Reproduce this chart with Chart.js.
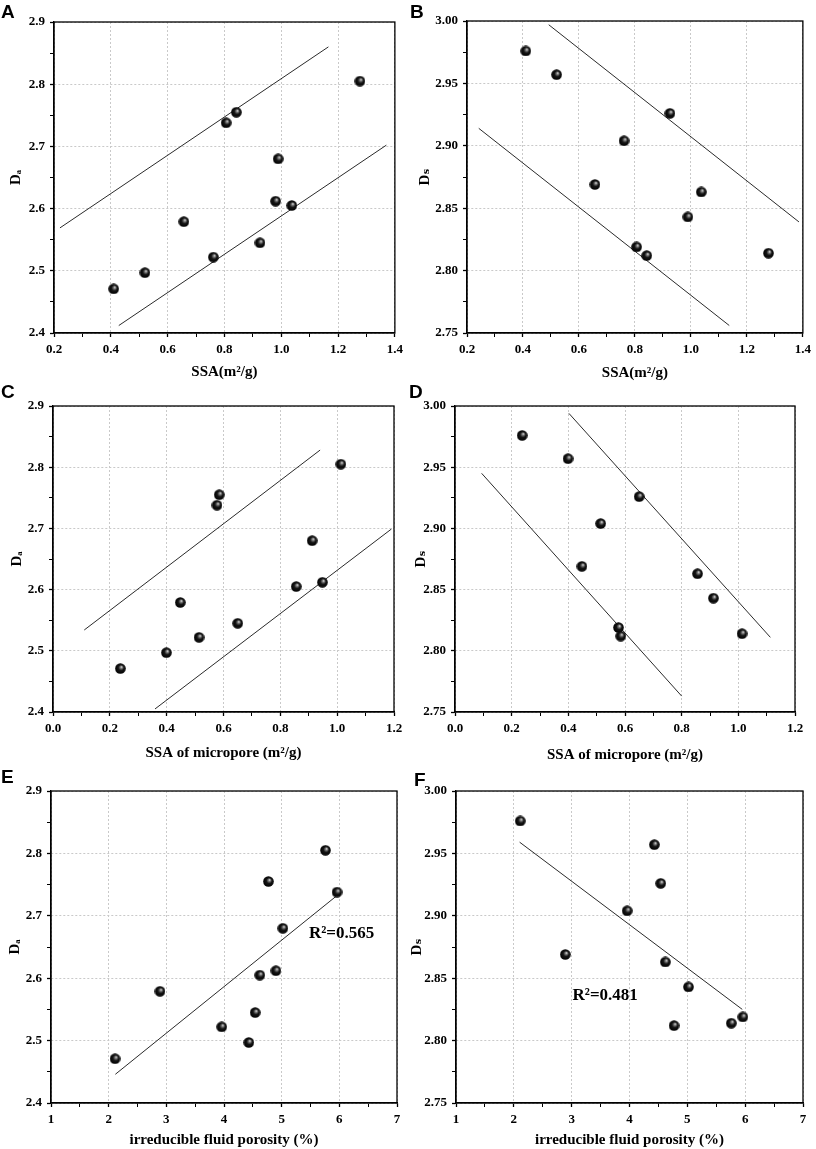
<!DOCTYPE html>
<html>
<head>
<meta charset="utf-8">
<script src="https://cdn.jsdelivr.net/npm/chart.js@4.4.1/dist/chart.umd.min.js"></script>
<style>
  body { margin: 0; background: #fff; }
  #page { position: relative; width: 816px; height: 1149px; overflow: hidden; }
  canvas { position: absolute; }
  .tag { position: absolute; font: bold 19px "Liberation Sans", Arial, sans-serif; color: #000; }
</style>
</head>
<body>
<div id="page">
  <canvas id="chA" width="408" height="385" style="left:0;top:0"></canvas>
  <canvas id="chB" width="408" height="385" style="left:408px;top:0"></canvas>
  <canvas id="chC" width="408" height="385" style="left:0;top:380px"></canvas>
  <canvas id="chD" width="408" height="385" style="left:408px;top:380px"></canvas>
  <canvas id="chE" width="408" height="389" style="left:0;top:760px"></canvas>
  <canvas id="chF" width="408" height="389" style="left:408px;top:760px"></canvas>
  <div class="tag" style="left:1px;top:1px">A</div>
  <div class="tag" style="left:410px;top:1px">B</div>
  <div class="tag" style="left:1px;top:381px">C</div>
  <div class="tag" style="left:409px;top:381px">D</div>
  <div class="tag" style="left:1px;top:766px">E</div>
  <div class="tag" style="left:414px;top:769px">F</div>
</div>
<script>
// samples, same order in every array (one sample has no Ds value)
var ssa      = [0.410, 0.520, 0.657, 0.761, 0.806, 0.842, 0.925, 0.989, 0.980, 1.037, 1.277];
var ssaMicro = [0.237, 0.399, 0.448, 0.514, 0.577, 0.585, 0.650, 0.912, 0.948, 0.856, 1.013];
var ifp      = [2.11, 4.43, 2.89, 3.96, 5.96, 4.77, 4.54, 5.02, 4.90, 4.62, 5.76];
var da       = [2.471, 2.497, 2.579, 2.522, 2.738, 2.755, 2.545, 2.680, 2.612, 2.605, 2.805];
var ds       = [2.976, 2.957, 2.869, 2.904, 2.819, 2.812, 2.926, 2.843, null, 2.863, 2.814];

// envelope / fit lines, end points [x, y]
var lineA1 = [[0.221, 2.569], [1.166, 2.860]];
var lineA2 = [[0.428, 2.412], [1.370, 2.702]];
var lineB1 = [[0.492, 2.997], [1.386, 2.839]];
var lineB2 = [[0.242, 2.914], [1.137, 2.756]];
var lineC1 = [[0.110, 2.534], [0.940, 2.828]];
var lineC2 = [[0.359, 2.405], [1.191, 2.699]];
var lineD1 = [[0.402, 2.994], [1.113, 2.811]];
var lineD2 = [[0.094, 2.945], [0.800, 2.763]];
var lineE  = [[2.116, 2.446], [5.94, 2.731]];
var lineF  = [[2.10, 2.959], [5.95, 2.825]];

// axis ranges: [min, max, step of minor ticks, label decimals]
var xSSA   = [0.2, 1.4, 0.1, 1];
var xMicro = [0.0, 1.2, 0.1, 1];
var xIfp   = [1, 7, 0.5, 0];
var yDa    = [2.4, 2.9, 0.05, 1];
var yDs    = [2.75, 3.00, 0.025, 2];

var serif = '"Liberation Serif", "Times New Roman", "DejaVu Serif", serif';

function makeBall(d) {
    var c = document.createElement('canvas');
    c.width = d; c.height = d;
    var g = c.getContext('2d');
    var r = d / 2;
    var grad = g.createRadialGradient(r * 1.25, r * 0.7, 0, r, r, r);
    grad.addColorStop(0, '#ffffff');
    grad.addColorStop(0.18, '#8a8a8a');
    grad.addColorStop(0.5, '#151515');
    grad.addColorStop(1, '#000000');
    g.fillStyle = grad;
    g.beginPath();
    g.arc(r, r, r - 0.2, 0, Math.PI * 2);
    g.fill();
    return c;
}
var ball = makeBall(11);

function pts(xs, ys) {
    var out = [];
    for (var i = 0; i < xs.length; i++) {
        if (ys[i] !== null) out.push({x: xs[i], y: ys[i]});
    }
    return out;
}

function seg(p) {
    return {
        type: 'line',
        data: p.map(function (q) { return {x: q[0], y: q[1]}; }),
        borderColor: '#2a2a2a',
        borderWidth: 1,
        pointRadius: 0,
        fill: false
    };
}

var frame = {
    id: 'frame',
    afterDraw: function (chart) {
        var a = chart.chartArea, ctx = chart.ctx;
        ctx.save();
        ctx.strokeStyle = '#000';
        ctx.lineWidth = 1.3;
        ctx.strokeRect(a.left, a.top, a.right - a.left, a.bottom - a.top);
        var note = chart.options.plugins.note;
        if (note && note.text) {
            ctx.font = 'bold 17px ' + serif;
            ctx.fillStyle = '#000';
            ctx.textAlign = 'center';
            ctx.textBaseline = 'middle';
            ctx.fillText(note.text, chart.scales.x.getPixelForValue(note.x), chart.scales.y.getPixelForValue(note.y));
        }
        ctx.restore();
    }
};

function axis(range, title, size, titlePad) {
    return {
        type: 'linear',
        min: range[0],
        max: range[1],
        afterFit: function (s) {
            if (s.isHorizontal()) s.height = size; else s.width = size;
        },
        ticks: {
            stepSize: range[2],
            autoSkip: false,
            maxRotation: 0,
            padding: 5,
            color: '#000',
            font: {family: serif, size: 13, weight: 'bold'},
            callback: function (v, i) {
                return i % 2 === 0 ? Number(v).toFixed(range[3]) : '';
            }
        },
        grid: {
            color: function (c) { return c.index % 2 === 0 ? '#c9c9c9' : 'rgba(0,0,0,0)'; },
            lineWidth: 1,
            tickColor: '#000',
            tickLength: 4,
            tickWidth: function (c) { return c.index % 2 === 0 ? 1.3 : 1; }
        },
        border: {display: true, color: '#000', width: 1.3, dash: [2, 2]},
        title: {
            display: true,
            text: title,
            color: '#000',
            padding: titlePad,
            font: {family: serif, size: 15, weight: 'bold'}
        }
    };
}

function panel(id, xs, ys, lines, xr, yr, xTitle, yTitle, lay, note) {
    var sets = [{
        type: 'scatter',
        data: pts(xs, ys),
        pointStyle: ball,
        pointRadius: 5.5,
        order: 0
    }];
    lines.forEach(function (l) { sets.push(seg(l)); });
    new Chart(document.getElementById(id).getContext('2d'), {
        type: 'scatter',
        data: {datasets: sets},
        options: {
            responsive: false,
            animation: false,
            layout: {padding: {left: 0, top: lay.top, right: lay.right, bottom: 0}},
            plugins: {legend: {display: false}, tooltip: {enabled: false}, note: note},
            scales: {
                x: axis(xr, xTitle, lay.xh, {top: 0, bottom: lay.xt}),
                y: axis(yr, yTitle, lay.yw, {top: lay.yt, bottom: 0})
            }
        },
        plugins: [frame]
    });
}

panel('chA', ssa, da, [lineA1, lineA2], xSSA, yDa, 'SSA(m\u00b2/g)', 'D\u2090',
      {top: 22, right: 11, xh: 52, yw: 54, xt: 4, yt: 7});
panel('chB', ssa, ds, [lineB1, lineB2], xSSA, yDs, 'SSA(m\u00b2/g)', 'D\u209b',
      {top: 21, right: 9, xh: 52, yw: 59, xt: 3, yt: 8});
panel('chC', ssaMicro, da, [lineC1, lineC2], xMicro, yDa, 'SSA of micropore (m\u00b2/g)', 'D\u2090',
      {top: 26, right: 14, xh: 53, yw: 53, xt: 3, yt: 8});
panel('chD', ssaMicro, ds, [lineD1, lineD2], xMicro, yDs, 'SSA of micropore (m\u00b2/g)', 'D\u209b',
      {top: 26, right: 21, xh: 53, yw: 47, xt: 1, yt: 4});
panel('chE', ifp, da, [lineE], xIfp, yDa, 'irreducible fluid porosity (%)', 'D\u2090',
      {top: 31, right: 11, xh: 46, yw: 51, xt: 0, yt: 6},
      {text: 'R\u00b2=0.565', x: 6.04, y: 2.671});
panel('chF', ifp, ds, [lineF], xIfp, yDs, 'irreducible fluid porosity (%)', 'D\u209b',
      {top: 31, right: 13, xh: 46, yw: 48, xt: 0, yt: 0},
      {text: 'R\u00b2=0.481', x: 3.58, y: 2.836});
</script>
</body>
</html>
